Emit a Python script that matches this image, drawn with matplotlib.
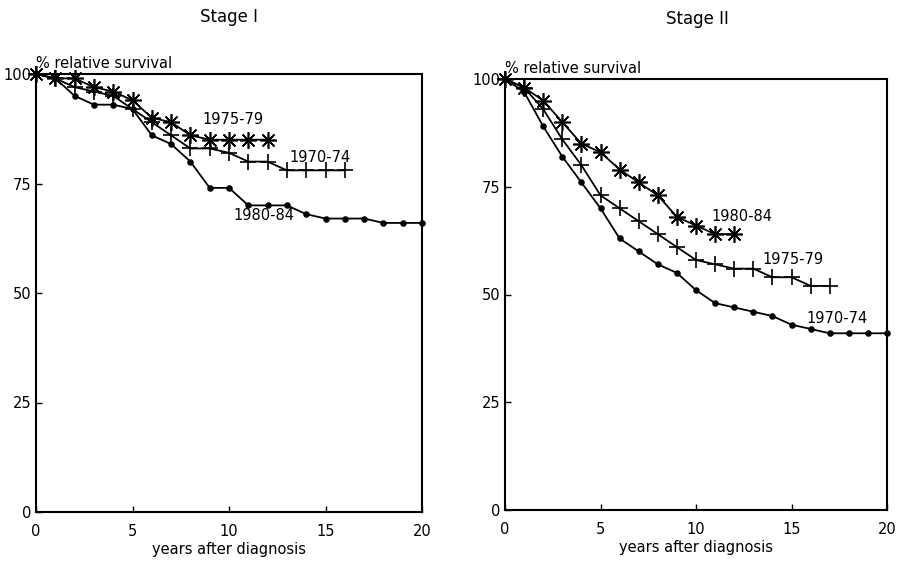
import matplotlib
matplotlib.use("Agg")
import matplotlib.pyplot as plt

plt.rcParams['font.family'] = ['DejaVu Sans']

# Stage I
s1_1970_74 = [100, 99, 97, 96, 95, 92, 89, 86, 83, 83, 82, 80, 80, 78, 78, 78, 78]
s1_1975_79 = [100, 99, 99, 97, 96, 94, 90, 89, 86, 85, 85, 85, 85]
s1_1980_84 = [100, 99, 95, 93, 93, 92, 86, 84, 80, 74, 74, 70, 70, 70, 68, 67, 67, 67, 66, 66, 66]

# Stage II
s2_1970_74 = [100, 97, 89, 82, 76, 70, 63, 60, 57, 55, 51, 48, 47, 46, 45, 43, 42, 41, 41, 41, 41]
s2_1975_79 = [100, 98, 93, 86, 80, 73, 70, 67, 64, 61, 58, 57, 56, 56, 54, 54, 52, 52]
s2_1980_84 = [100, 98, 95, 90, 85, 83, 79, 76, 73, 68, 66, 64, 64]

titles = ["Stage I", "Stage II"]
xticks = [0, 5, 10, 15, 20]
yticks = [0, 25, 50, 75, 100]
ylab = "% relative survival"
xlab = "years after diagnosis"

fig = plt.figure(figsize=(8.98, 5.67), dpi=100)
ax1 = fig.add_axes([36/898, 1-512/567, 386/898, 438/567])
ax2 = fig.add_axes([505/898, 1-510/567, 382/898, 431/567])

STAR = (8, 2, 0)
lw = 1.3
FS = 10.5

def draw(ax, series, labels):
    for vals, mk, ms in series:
        ax.plot(range(len(vals)), vals, color='black', lw=lw, marker=mk,
                ms=ms, mew=1.2, mfc='black', mec='black', clip_on=False)
    for txt, x, y in labels:
        ax.text(x, y, txt, fontsize=FS, ha='center', va='center')
    ax.set_xlim(0, 20)
    ax.set_ylim(0, 100)
    ax.set_xticks(xticks)
    ax.set_yticks(yticks)
    ax.tick_params(direction='in', length=4, width=1, labelsize=FS)
    ax.tick_params(axis='x', pad=9)
    ax.tick_params(axis='y', pad=3)
    for sp in ax.spines.values():
        sp.set_linewidth(1.5)
    ax.set_xlabel(xlab, fontsize=FS, labelpad=2)
    ax.text(0, 100.6, ylab, fontsize=FS, ha='left', va='bottom')

draw(ax1,
     [(s1_1980_84, 'o', 3.5), (s1_1970_74, '+', 12), (s1_1975_79, STAR, 12)],
     [("1975-79", 10.2, 89.7), ("1970-74", 14.7, 81.0), ("1980-84", 11.8, 67.6)])
draw(ax2,
     [(s2_1970_74, 'o', 3.5), (s2_1975_79, '+', 12), (s2_1980_84, STAR, 12)],
     [("1980-84", 12.4, 68.1), ("1975-79", 15.1, 58.1), ("1970-74", 17.4, 44.5)])

fig.text(229/898, 1-17/567, titles[0], fontsize=12, ha='center', va='center')
fig.text(697/898, 1-19/567, titles[1], fontsize=12, ha='center', va='center')

fig.savefig("out.png", dpi=100)
